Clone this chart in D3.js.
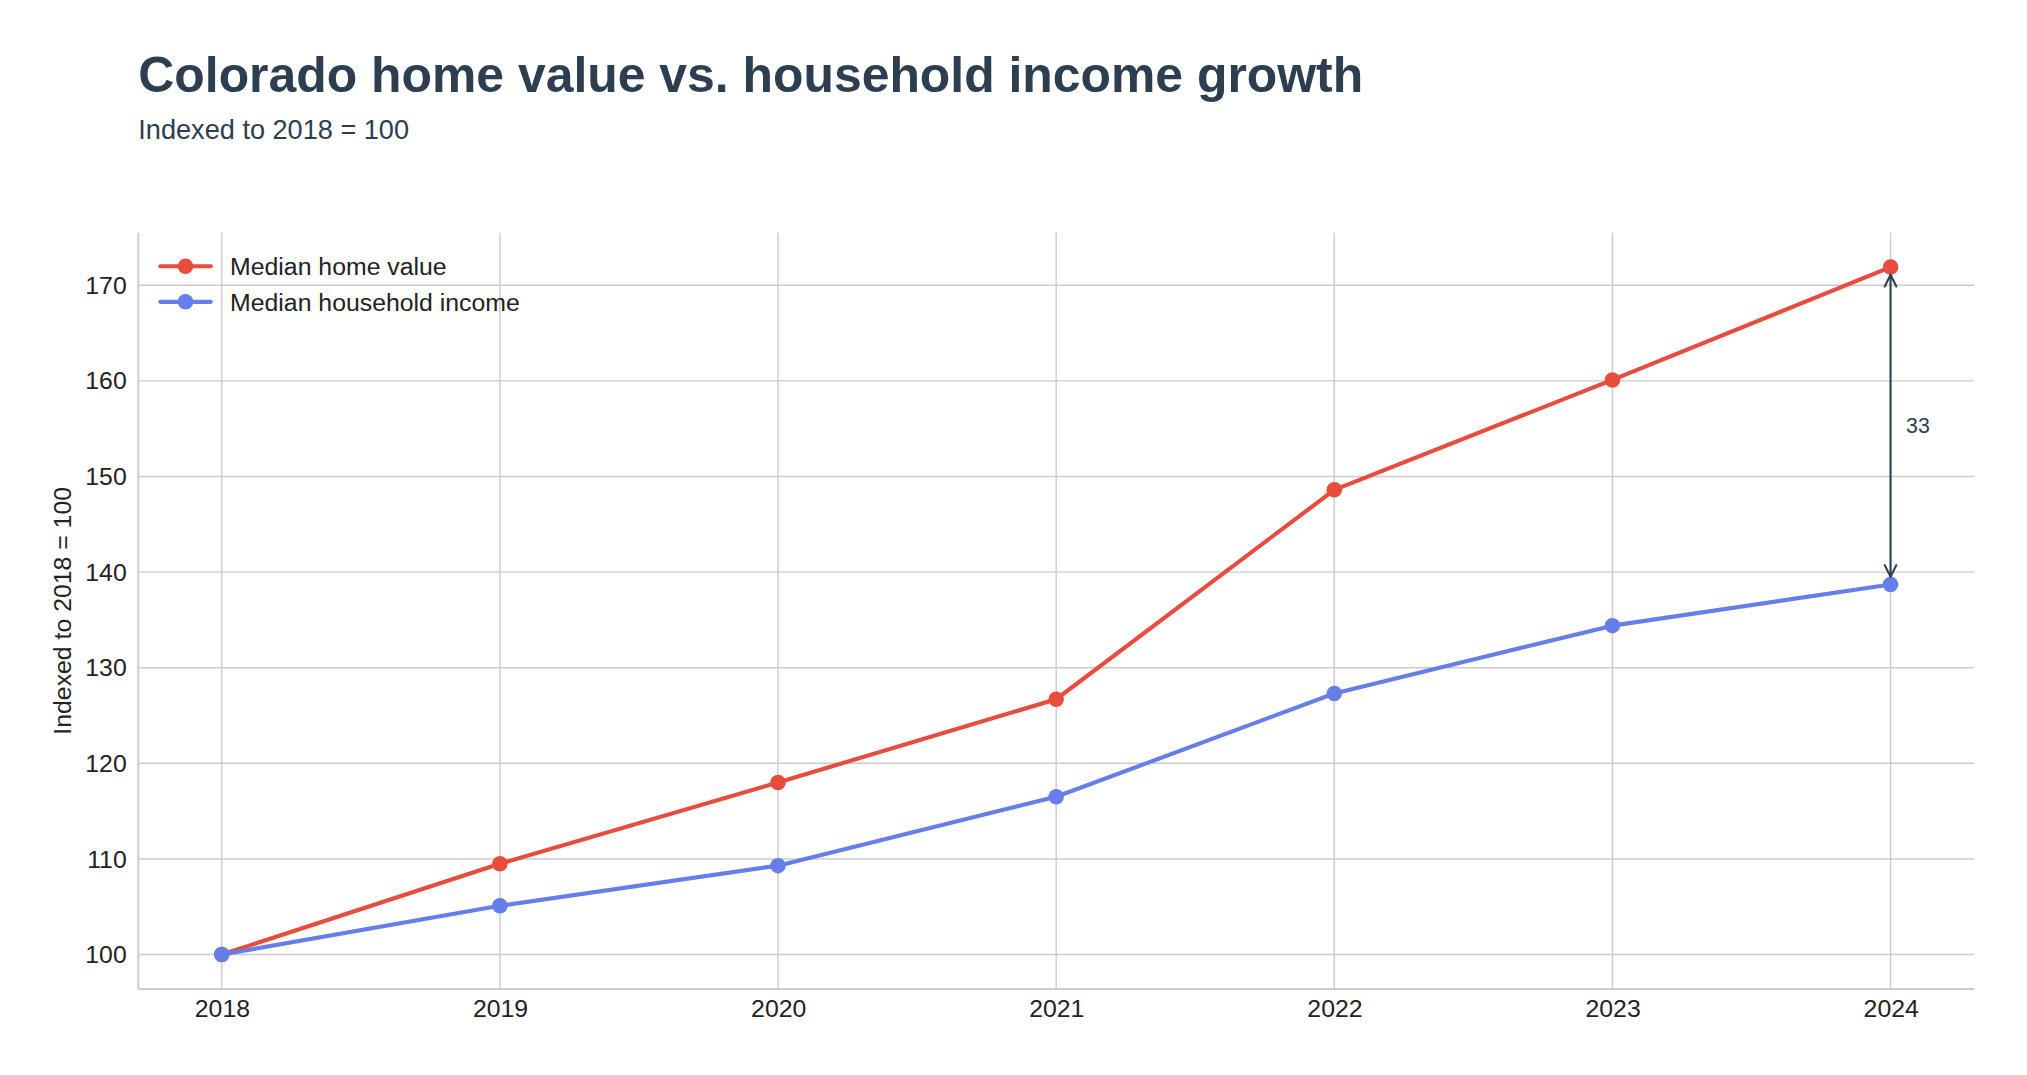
<!DOCTYPE html>
<html>
<head>
<meta charset="utf-8">
<script src="https://cdn.jsdelivr.net/npm/d3@7"></script>
<style>
  html, body { margin: 0; padding: 0; background: #fff; }
  svg { display: block; font-family: "Liberation Sans", Arial, Helvetica, sans-serif; }
</style>
</head>
<body>
<svg id="chart"></svg>
<script>
// data
const years = ["2018", "2019", "2020", "2021", "2022", "2023", "2024"];
const homeValue = [100, 109.5, 118.0, 126.7, 148.6, 160.1, 171.9];
const householdIncome = [100, 105.1, 109.3, 116.5, 127.3, 134.4, 138.7];
const seriesNames = ["Median home value", "Median household income"];
const yTicks = [100, 110, 120, 130, 140, 150, 160, 170];

const W = 2027, H = 1075;
// layout units (drawing is scaled up to the window through the viewBox)
const VW = 1568, VH = VW * H / W;
const margin = { left: 107, right: 41, top: 180, bottom: VH - 765 };
const ink = "#2c3e50";
const colors = ["#e74c3c", "#667eea"];
const fs = 19.2;

const svg = d3.select("#chart")
  .attr("width", W)
  .attr("height", H)
  .attr("viewBox", `0 0 ${VW} ${VH}`);

svg.append("text")
  .attr("x", 107).attr("y", 71)
  .attr("font-size", 38.6).attr("font-weight", "bold")
  .attr("fill", ink)
  .text("Colorado home value vs. household income growth");

svg.append("text")
  .attr("x", 107).attr("y", 107.5)
  .attr("font-size", 21)
  .attr("fill", ink)
  .text("Indexed to 2018 = 100");

const x = d3.scalePoint()
  .domain(years)
  .range([margin.left, VW - margin.right])
  .padding(0.3);

const allVals = homeValue.concat(householdIncome);
const lo = d3.min(allVals), hi = d3.max(allVals), pad = (hi - lo) * 0.05;
const y = d3.scaleLinear()
  .domain([lo - pad, hi + pad])
  .range([VH - margin.bottom, margin.top]);

// grid
const grid = svg.append("g").attr("stroke", "#cccccc").attr("stroke-width", 1.1);
grid.selectAll("line.gx")
  .data(years)
  .join("line")
  .attr("class", "gx")
  .attr("x1", d => x(d)).attr("x2", d => x(d))
  .attr("y1", margin.top).attr("y2", VH - margin.bottom);
grid.selectAll("line.gy")
  .data(yTicks)
  .join("line")
  .attr("class", "gy")
  .attr("x1", margin.left).attr("x2", VW - margin.right)
  .attr("y1", d => y(d)).attr("y2", d => y(d));

// axes
const xAxis = svg.append("g")
  .attr("transform", `translate(0,${VH - margin.bottom})`)
  .call(d3.axisBottom(x).tickSize(0).tickPadding(8));
const yAxis = svg.append("g")
  .attr("transform", `translate(${margin.left},0)`)
  .call(d3.axisLeft(y).tickValues(yTicks).tickSize(0).tickPadding(9));

[xAxis, yAxis].forEach(g => {
  g.select(".domain").attr("stroke", "#cccccc").attr("stroke-width", 1.5);
  g.selectAll("text")
    .attr("font-size", fs)
    .attr("fill", "#222")
    .attr("font-family", "Liberation Sans, Arial, sans-serif");
});
xAxis.select(".domain").attr("d", `M${margin.left},0H${VW - margin.right}`);
yAxis.select(".domain").attr("d", `M0,${margin.top}V${VH - margin.bottom}`);

svg.append("text")
  .attr("transform", `translate(55,${(margin.top + VH - margin.bottom) / 2}) rotate(-90)`)
  .attr("text-anchor", "middle")
  .attr("font-size", fs)
  .attr("fill", "#222")
  .text("Indexed to 2018 = 100");

// lines
const line = d3.line()
  .x((d, i) => x(years[i]))
  .y(d => y(d));

[homeValue, householdIncome].forEach((vals, k) => {
  const g = svg.append("g");
  g.append("path")
    .datum(vals)
    .attr("d", line)
    .attr("fill", "none")
    .attr("stroke", colors[k])
    .attr("stroke-width", 3.2)
    .attr("stroke-linejoin", "round")
    .attr("stroke-linecap", "round");
  g.selectAll("circle")
    .data(vals)
    .join("circle")
    .attr("cx", (d, i) => x(years[i]))
    .attr("cy", d => y(d))
    .attr("r", 6)
    .attr("fill", colors[k]);
});

// gap annotation at the last year
const last = years.length - 1;
const gap = homeValue[last] - householdIncome[last];
const ax = x(years[last]);
const yTop = y(homeValue[last]) + 6;
const yBot = y(householdIncome[last]) - 6;
const ann = svg.append("g")
  .attr("stroke", ink)
  .attr("stroke-width", 1.6)
  .attr("fill", "none")
  .attr("stroke-linecap", "round")
  .attr("stroke-linejoin", "round");
ann.append("line")
  .attr("x1", ax).attr("x2", ax)
  .attr("y1", yTop).attr("y2", yBot);
ann.append("path").attr("d", `M${ax - 4.5},${yTop + 9}L${ax},${yTop}L${ax + 4.5},${yTop + 9}`);
ann.append("path").attr("d", `M${ax - 4.5},${yBot - 9}L${ax},${yBot}L${ax + 4.5},${yBot - 9}`);
svg.append("text")
  .attr("x", ax + 12)
  .attr("y", (y(homeValue[last]) + y(householdIncome[last])) / 2)
  .attr("dy", "0.35em")
  .attr("font-size", 16.5)
  .attr("fill", ink)
  .text(Math.round(gap));

// legend
const legend = svg.append("g");
seriesNames.forEach((name, k) => {
  const ly = 206 + k * 27.5;
  legend.append("line")
    .attr("x1", 124).attr("x2", 163)
    .attr("y1", ly).attr("y2", ly)
    .attr("stroke", colors[k]).attr("stroke-width", 3.2)
    .attr("stroke-linecap", "round");
  legend.append("circle")
    .attr("cx", 143.5).attr("cy", ly).attr("r", 6)
    .attr("fill", colors[k]);
  legend.append("text")
    .attr("x", 178).attr("y", ly)
    .attr("dy", "0.35em")
    .attr("font-size", fs)
    .attr("fill", "#222")
    .text(name);
});
</script>
</body>
</html>
